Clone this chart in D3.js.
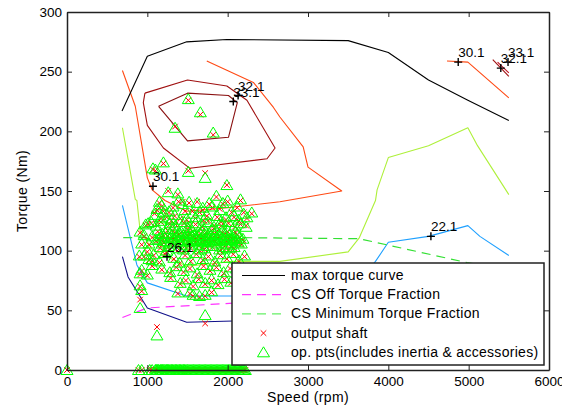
<!DOCTYPE html>
<html><head><meta charset="utf-8">
<script src="https://cdn.jsdelivr.net/npm/d3@7"></script>
<style>
html,body{margin:0;padding:0;background:#fff;}
svg{display:block;font-family:"Liberation Sans",Arial,Helvetica,sans-serif;}
</style></head>
<body>
<svg id="c" width="562" height="406"></svg>
<script>
// ---------- data ----------
const xTicks = [0,1000,2000,3000,4000,5000,6000];
const yTicks = [0,50,100,150,200,250,300];
const xLabel = "Speed (rpm)";
const yLabel = "Torque (Nm)";

// max torque curve [speed, torque]
const maxTorque = [[685,217],[1000,263],[1490,275],[1990,277],[3500,276],[4000,266],[4500,243],[4990,226],[5500,209]];
// CS Off Torque Fraction
const csOff = [[690,44],[1000,52],[2070,56],[3500,58],[5500,60]];
// CS Minimum Torque Fraction
const csMin = [[700,111],[2000,111],[3640,110],[4980,90],[5500,84]];

// efficiency contour pieces
const c30a = [[690,251],[850,221],[1000,161],[1060,151],[1220,142],[1490,133],[2000,136],[2650,141],[3420,150],[3000,170],[2940,187],[2650,212],[2570,220],[2320,241],[1740,259]];
const c30b = [[4730,259],[4990,258],[5500,228]];
const c32a = [[970,232],[1500,243],[1990,238],[2240,226],[2590,186],[2490,177],[1530,169],[1200,186],[1000,205],[950,224],[970,232]];
const c33a = [[1140,221],[1500,232],[2010,230],[2120,224],[2010,195],[1500,192],[1140,221]];
const c32b = [[5300,260],[5500,246]];
const c33b = [[5360,258],[5500,249]];
const c26a = [[690,203],[850,143],[870,142],[910,117],[1060,101],[1490,87],[2070,91],[2650,91],[3500,99],[3640,111],[3840,142],[3860,151],[4000,178],[4500,188],[4990,203],[5110,188],[5500,147]];
const c22a = [[690,138],[870,88],[1000,73],[1490,62],[2070,62],[3500,63],[3840,91],[4000,107],[4500,112],[4990,121],[5140,112],[5500,96]];
const c18a = [[690,95],[760,78],[1000,52],[1490,40],[2070,41],[3500,42],[4000,44]];

// contour labels [speed, torque, text]
const contourLabels = [
  [1070,154,"30.1"],[1245,95,"26.1"],[2070,225,"33.1"],[2130,230,"32.1"],
  [4870,258,"30.1"],[5400,253,"32.1"],[5490,258,"33.1"],[4530,112,"22.1"]
];

// operating points [speed, op. pt torque (incl. inertia & accessories), output shaft torque]
const opPoints = [
  [1510,227,226],[1660,216,214],[1345,203,204],[1820,199,197],[1100,168,167],[1200,174,173],[1070,169,168],
  [1510,166,167],[1720,161,165],[1990,155,155],[1260,149,150],[1380,148,147],[1620,140,141],[1770,140,139],
  [2000,142,141],[1200,132,133],[1320,137,136],[1150,141,140],[1440,139,141],[1860,146,145],[2120,137,136],
  [2200,131,132],[2300,132,131],[2240,128,127],[1900,134,135],[1560,131,133],[1690,136,134],[1090,130,131],
  [1240,127,128],[1410,126,127],[1980,128,126],[2080,129,128],
  [1120,135,134],[1180,138,137],[1270,133,132],[1340,130,129],[1390,142,141],[1470,134,133],[1520,141,140],
  [1600,128,127],[1650,133,132],[1740,130,129],[1810,137,136],[1870,129,128],[1940,140,139],[2050,133,132],
  [2160,143,142],[1170,128,127],[1300,126,125],[1490,127,126],[1700,126,125],[1920,125,124],[2140,126,125],
  [980,122,121],[1050,124,123],[1110,121,122],[1170,125,124],[1280,123,122],[1350,121,122],[1460,124,123],
  [1530,120,121],[1600,123,122],[1680,121,120],[1760,124,125],[1830,120,121],[1920,122,121],[2010,124,123],
  [2090,121,120],[2160,123,122],[2230,120,121],
  [1130,117,116],[1170,112,111],[1200,108,107],[1230,115,114],[1260,104,103],[1290,111,110],[1310,118,117],
  [1340,106,105],[1370,113,112],[1390,102,101],[1420,116,115],[1440,109,108],[1470,105,104],[1490,114,113],
  [1520,110,109],[1540,103,102],[1560,117,116],[1590,108,107],[1610,112,111],[1640,105,104],[1660,115,114],
  [1690,110,109],[1710,102,101],[1730,116,115],[1760,107,106],[1790,113,112],[1810,104,103],[1830,110,109],
  [1860,117,116],[1880,106,105],[1910,112,111],[1940,103,102],[1960,115,114],[1990,109,108],[2020,113,112],
  [2040,105,104],[2070,111,110],[2100,116,115],[2130,107,106],[2150,112,111],[1160,103,102],[1250,118,117],
  [1330,110,109],[1410,107,106],[1500,119,118],[1580,113,112],[1670,108,107],[1750,111,110],[1840,114,113],
  [1920,108,107],[2000,117,116],[2080,103,102],[2190,110,109],[1110,109,108],[1060,112,111],[1020,106,105],
  [960,113,112],[1380,109,108],[1470,111,110],[1550,107,106],[1620,109,108],[1700,113,112],[1780,108,107],
  [1870,111,110],[1950,110,109],[2050,109,108],[2120,114,113],[1190,114,113],[1280,107,106],[1360,116,115],
  [1450,101,100],[1530,115,114],[1650,101,100],[1720,109,108],[1800,118,117],[1900,101,100],[1980,106,105],
  [1140,110,109],[1215,111,110],[1300,113,112],[1355,111,110],[1430,112,111],[1505,108,107],[1575,110,109],
  [1635,113,112],[1705,107,106],[1770,111,110],[1845,109,108],[1895,113,112],[1975,112,111],[2030,110,109],
  [2090,108,107],[2170,106,105],[1185,106,105],[1395,115,114],[1560,112,111],[1740,104,103],[1930,116,115],
  [2110,110,109],[1240,100,99],[1685,117,116],[2015,102,101],
  [960,96,95],[1020,93,92],[1080,97,96],[1150,91,90],[1220,98,97],[1330,94,93],[1400,90,89],[1470,97,96],
  [1540,92,91],[1610,98,97],[1690,93,92],[1760,96,95],[1840,91,90],[1910,97,96],[1990,94,93],[2070,98,97],
  [2140,92,91],[2210,96,95],
  [930,84,83],[1000,80,79],[1060,88,87],[1180,85,84],[1280,82,81],[1360,87,86],[1450,83,82],[1530,86,85],
  [1620,81,80],[1700,88,87],[1780,84,83],[1860,87,86],[1950,82,81],[2030,86,85],[2110,85,84],
  [910,81,80],[910,71,70],[930,67,66],[1290,78,77],[1410,73,72],[1480,76,75],[1570,71,70],[1640,77,76],
  [1720,73,72],[1800,76,75],[1880,72,71],[1960,77,76],[2040,74,73],
  [1380,65,64],[1530,65,64],[1570,63,62],[1720,63,62],[1800,66,65],[1650,62,61],
  [910,116,115],[930,106,105],[900,96,95],[1010,123,122],[1060,92,91],[1000,100,99],
  [910,52,59],[1120,29,36],[1720,46,39],
  [0,0,0],[890,0,0],[930,0,0],[1030,0,0],[1060,0,0],[1100,0,0],[1120,0,0],[1140,0,0],[1160,0,0],
  [1180,0,0],[1200,0,0],[1230,0,0],[1250,0,0],[1270,0,0],[1300,0,0],[1320,0,0],[1350,0,0],[1370,0,0],
  [1400,0,0],[1420,0,0],[1450,0,0],[1470,0,0],[1500,0,0],[1530,0,0],[1560,0,0],[1590,0,0],[1620,0,0],
  [1650,0,0],[1680,0,0],[1710,0,0],[1740,0,0],[1770,0,0],[1800,0,0],[1830,0,0],[1860,0,0],[1890,0,0],
  [1920,0,0],[1950,0,0],[1980,0,0],[2010,0,0],[2040,0,0],[2070,0,0],[2100,0,0],[2130,0,0],[2160,0,0],
  [2190,0,0],[2220,0,0],[1110,0,0],[1215,0,0],[1335,0,0],[1435,0,0],[1545,0,0],[1665,0,0],[1785,0,0],
  [1905,0,0],[2025,0,0],[2145,0,0],[1130,0,0],[1170,0,0],[1190,0,0],[1240,0,0],[1260,0,0],[1285,0,0],
  [1310,0,0],[1360,0,0],[1385,0,0],[1410,0,0],[1460,0,0],[1485,0,0],[1515,0,0],[1575,0,0],[1605,0,0],
  [1635,0,0],[1695,0,0],[1725,0,0],[1755,0,0],[1815,0,0],[1845,0,0],[1875,0,0],[1935,0,0],[1965,0,0],
  [1995,0,0],[2055,0,0],[2085,0,0],[2115,0,0],[2175,0,0],[2205,0,0]
];

const legendItems = ["max torque curve","CS Off Torque Fraction","CS Minimum Torque Fraction","output shaft","op. pts(includes inertia & accessories)"];

// ---------- drawing ----------
const svg = d3.select("#c");
const L=67, R=549, T=12, B=370;
const x = d3.scaleLinear().domain([0,6000]).range([L,R]);
const y = d3.scaleLinear().domain([0,300]).range([B,T]);
const line = d3.line().x(d=>x(d[0])).y(d=>y(d[1]));

const gPlot = svg.append("g");
function path(data, color, dash, w){
  gPlot.append("path").datum(data).attr("d", line).attr("fill","none")
    .attr("stroke", color).attr("stroke-width", w||1.1)
    .attr("stroke-dasharray", dash||null).attr("stroke-linejoin","round");
}
const colOrange="#ff4a14", colDark="#a01010", colYG="#aef03a", colBlue="#1ea0ff", colNavy="#10108a";
path(c18a, colNavy);
path(c22a, colBlue);
path(c26a, colYG);
path(c30a, colOrange);
path(c30b, colOrange);
path(c32a, colDark);
path(c33a, "#8a1010");
path(c32b, colDark);
path(c33b, "#c01020");
path(maxTorque, "#000");
path(csOff, "#ff33ff", "9,6", 1.2);
path(csMin, "#33e033", "9,6", 1.2);

// triangles (op. pts) and x markers (output shaft)
const tri = "M0,-5.5L6,4.5L-6,4.5Z";
const xm = "M-2.8,-2.8L2.8,2.8M-2.8,2.8L2.8,-2.8";
gPlot.append("g").selectAll("path").data(opPoints).join("path")
  .attr("d", xm).attr("transform", d=>`translate(${x(d[0])},${y(d[2])})`)
  .attr("fill","none").attr("stroke","#ff0000").attr("stroke-width",1);
gPlot.append("g").selectAll("path").data(opPoints).join("path")
  .attr("d", tri).attr("transform", d=>`translate(${x(d[0])},${y(d[1])})`)
  .attr("fill","none").attr("stroke","#00ff00").attr("stroke-width",1);

// contour labels
const gLab = svg.append("g");
contourLabels.forEach(d=>{
  const px=x(d[0]), py=y(d[1]);
  gLab.append("path").attr("d",`M${px-4},${py}L${px+4},${py}M${px},${py-4}L${px},${py+4}`)
    .attr("stroke","#000").attr("stroke-width",1.4);
  gLab.append("text").attr("x",px).attr("y",py-5).attr("font-size",13.5).attr("fill","#000").text(d[2]);
});

// axes
const axStyle = g=>{ g.selectAll(".domain").attr("stroke","#222").attr("stroke-width",1.5);
  g.selectAll(".tick line").attr("stroke","#222").attr("stroke-width",1);
  g.selectAll("text").attr("font-size",13.5).attr("fill","#000").attr("font-family","Liberation Sans, Arial, sans-serif"); };
const fmt = d3.format("d");
svg.append("g").attr("transform",`translate(0,${B})`)
  .call(d3.axisBottom(x).tickValues(xTicks).tickFormat(fmt).tickSizeInner(-5).tickSizeOuter(0).tickPadding(6)).call(axStyle);
svg.append("g").attr("transform",`translate(0,${T})`)
  .call(d3.axisTop(x).tickValues(xTicks).tickSizeInner(-5).tickSizeOuter(0).tickFormat("")).call(axStyle);
svg.append("g").attr("transform",`translate(${L},0)`)
  .call(d3.axisLeft(y).tickValues(yTicks).tickFormat(fmt).tickSizeInner(-5).tickSizeOuter(0).tickPadding(5)).call(axStyle);
svg.append("g").attr("transform",`translate(${R},0)`)
  .call(d3.axisRight(y).tickValues(yTicks).tickSizeInner(-5).tickSizeOuter(0).tickFormat("")).call(axStyle);

svg.append("text").attr("x",(L+R)/2).attr("y",402).attr("text-anchor","middle").attr("font-size",14).attr("letter-spacing",0.4).text(xLabel);
svg.append("text").attr("transform",`translate(27,${(T+B)/2}) rotate(-90)`).attr("text-anchor","middle").attr("font-size",14).attr("letter-spacing",0.4).text(yLabel);

// legend
const lg = svg.append("g");
lg.append("rect").attr("x",232).attr("y",263).attr("width",312).attr("height",102)
  .attr("fill","#fff").attr("stroke","#222").attr("stroke-width",1.5);
const rowY = i => 275.5 + i*19.2;
legendItems.forEach((t,i)=>{
  lg.append("text").attr("x",291).attr("y",rowY(i)+4.5).attr("font-size",14).attr("letter-spacing",0.3).text(t);
});
lg.append("line").attr("x1",242).attr("x2",285).attr("y1",rowY(0)).attr("y2",rowY(0)).attr("stroke","#000").attr("stroke-width",1.1);
lg.append("line").attr("x1",242).attr("x2",285).attr("y1",rowY(1)).attr("y2",rowY(1)).attr("stroke","#ff33ff").attr("stroke-width",1.2).attr("stroke-dasharray","9,6");
lg.append("line").attr("x1",242).attr("x2",285).attr("y1",rowY(2)).attr("y2",rowY(2)).attr("stroke","#66f066").attr("stroke-width",1.2).attr("stroke-dasharray","9,6");
lg.append("path").attr("d",xm).attr("transform",`translate(263.5,${rowY(3)})`).attr("stroke","#ff0000").attr("fill","none");
lg.append("path").attr("d",tri).attr("transform",`translate(263.5,${rowY(4)})`).attr("stroke","#00ff00").attr("fill","none");
</script>
</body></html>
